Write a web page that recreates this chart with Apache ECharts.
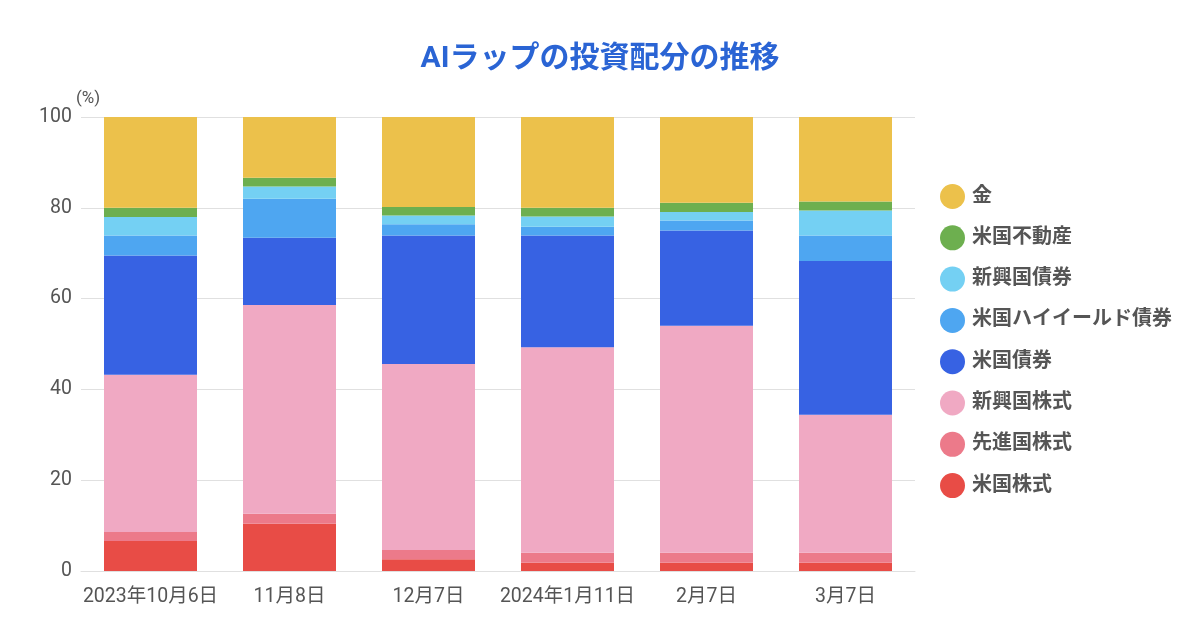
<!DOCTYPE html>
<html>
<head>
<meta charset="utf-8">
<script src="https://cdn.jsdelivr.net/npm/echarts@6/dist/echarts.min.js"></script>
<style>html,body{margin:0;padding:0;background:#fff}#c{width:1200px;height:630px}</style>
</head>
<body>
<div id="c"></div>
<script>
const categories = ['2023年10月6日', '11月8日', '12月7日', '2024年1月11日', '2月7日', '3月7日'];
const usStocks      = [6.6, 10.4, 2.6, 1.8, 1.8, 1.8];
const devStocks     = [2.0, 2.2, 2.0, 2.2, 2.2, 2.2];
const emStocks      = [34.6, 46.0, 41.0, 45.3, 50.0, 30.4];
const usBonds       = [26.3, 14.8, 28.3, 24.6, 21.0, 33.9];
const usHighYield   = [4.4, 8.6, 2.5, 1.9, 2.2, 5.6];
const emBonds       = [4.1, 2.7, 1.9, 2.3, 1.9, 5.5];
const usRealEstate  = [2.0, 1.9, 1.9, 1.9, 2.0, 2.0];
const gold          = [20.0, 13.4, 19.8, 20.0, 18.9, 18.6];
const yTicks = [0, 20, 40, 60, 80, 100];

const seriesDefs = [
  ['米国株式', usStocks, '#e84c46'],
  ['先進国株式', devStocks, '#ec7a8a'],
  ['新興国株式', emStocks, '#f0a9c3'],
  ['米国債券', usBonds, '#3762e3'],
  ['米国ハイイールド債券', usHighYield, '#4ea6f1'],
  ['新興国債券', emBonds, '#74d0f3'],
  ['米国不動産', usRealEstate, '#6daf4f'],
  ['金', gold, '#ecc14b']
];
const FONT = "Roboto, 'Noto Sans CJK JP', sans-serif";
const chart = echarts.init(document.getElementById('c'), null, {renderer: 'canvas'});
chart.setOption({
  backgroundColor: '#fff',
  animation: false,
  textStyle: {fontFamily: FONT},
  title: {
    text: 'AIラップの投資配分の推移',
    left: 'center', top: 40,
    textStyle: {color: '#2a64d4', fontSize: 30, fontWeight: 'bold', fontFamily: FONT}
  },
  legend: {
    orient: 'vertical',
    left: 935, top: 179,
    icon: 'circle',
    itemWidth: 25, itemHeight: 25, itemGap: 16.3,
    data: seriesDefs.map(s => s[0]).reverse(),
    textStyle: {color: '#555', fontSize: 20, fontWeight: 'bold', fontFamily: FONT, padding: [0, 0, 0, 2]}
  },
  grid: {left: 81, right: 285, top: 117, bottom: 59},
  xAxis: {
    type: 'category',
    data: categories,
    axisTick: {show: false},
    axisLine: {show: true, lineStyle: {color: '#e0e0e0'}},
    axisLabel: {color: '#555', fontSize: 19.5, margin: 16, interval: 0, fontFamily: FONT}
  },
  yAxis: {
    type: 'value',
    min: yTicks[0], max: yTicks[yTicks.length - 1], interval: 20,
    name: '(%)',
    nameLocation: 'end',
    nameGap: 10,
    nameTextStyle: {color: '#555', fontSize: 17, align: 'center', padding: [0, 0, 0, 14]},
    axisLine: {show: false},
    axisTick: {show: false},
    splitLine: {lineStyle: {color: '#e0e0e0'}},
    axisLabel: {color: '#555', fontSize: 19.5, margin: 9, fontFamily: FONT}
  },
  series: seriesDefs.map(([name, data, color]) => ({
    name, type: 'bar', stack: 'total', data,
    barWidth: 93,
    itemStyle: {color},
    emphasis: {disabled: true}
  }))
});
</script>
</body>
</html>
